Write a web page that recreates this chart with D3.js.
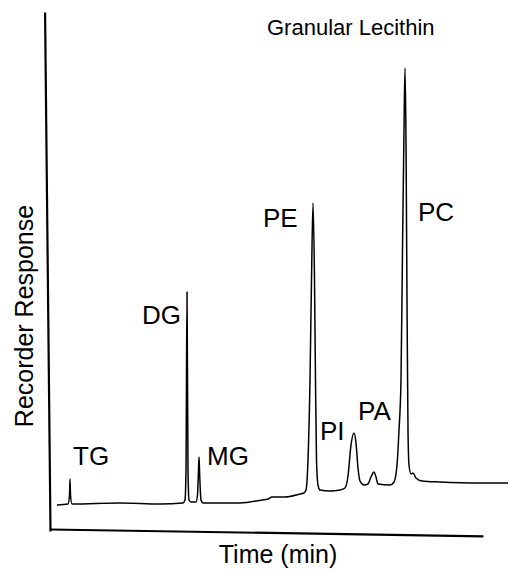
<!DOCTYPE html>
<html>
<head>
<meta charset="utf-8">
<script src="https://cdn.jsdelivr.net/npm/d3@7"></script>
<style>
  body { margin: 0; background: #fff; }
  text { font-family: "Liberation Sans", Arial, Helvetica, sans-serif; fill: #000; }
</style>
</head>
<body>
<div id="chart"></div>
<script>
// chromatogram trace (time in min, response in arbitrary units)
var times = [0.7, 1.8, 1.95, 2.0, 2.05, 2.2, 7.0, 11.0, 13.3, 13.5, 13.6, 13.7, 13.8, 13.9, 14.1,
  14.6, 14.75, 14.85, 14.9, 14.95, 15.1, 15.3, 19.0, 21.2, 21.8, 22.2, 23.5, 25.0, 25.4, 25.6,
  25.8, 26.0, 26.15, 26.3, 26.45, 26.55, 26.65, 26.8, 27.0, 28.0, 29.0, 29.5, 29.8, 30.1, 30.4,
  30.6, 30.8, 31.0, 31.4, 31.8, 32.1, 32.4, 32.6, 32.8, 34.0, 34.4, 34.7, 34.9, 35.1, 35.25,
  35.4, 35.5, 35.6, 35.7, 35.8, 35.9, 36.1, 36.3, 36.6, 37.2, 39.0, 43.0, 45.8];
var response = [5.2, 5.4, 7.2, 10.4, 7.2, 5.4, 5.6, 5.4, 5.6, 6.2, 12.2, 47.8, 12.2, 6.2, 5.8,
  5.8, 7.2, 12.2, 14.8, 12.2, 6.2, 5.6, 5.6, 6.2, 6.4, 6.8, 6.8, 7.4, 7.6, 8.2,
  14.2, 30.2, 50.2, 65.6, 50.2, 30.2, 14.2, 9.2, 8.2, 8.0, 8.2, 8.6, 11.0, 17.2, 19.6,
  17.6, 12.6, 10.0, 9.2, 9.4, 10.8, 11.8, 10.8, 9.4, 9.2, 9.8, 13.2, 20.2, 30.2, 56.2,
  80.2, 92.6, 78.2, 46.2, 20.2, 13.2, 11.4, 11.6, 10.6, 10.0, 9.8, 9.6, 9.6];

// peak labels
var peakNames = ["TG", "DG", "MG", "PE", "PI", "PA", "PC"];
var peakLabelT = [2.3, 9.2, 15.7, 21.3, 27.0, 30.8, 36.8];
var peakLabelR = [13.2, 41.4, 13.2, 60.8, 18.2, 22.2, 62.0];

var title = "Granular Lecithin";
var xTitle = "Time (min)";
var yTitle = "Recorder Response";

var W = 511, H = 572;
var x = d3.scaleLinear().domain([0, 43.3]).range([50, 483]);
var y = d3.scaleLinear().domain([0, 103.8]).range([531, 12]);

var svg = d3.select("#chart").append("svg")
  .attr("width", W)
  .attr("height", H);

// axes: plain lines, no ticks
svg.append("g")
  .attr("transform", "translate(50,0) rotate(-0.6, 0, 531)")
  .call(d3.axisLeft(y).ticks(0).tickSize(0).tickSizeOuter(0))
  .call(function (g) {
    g.select(".domain").attr("stroke", "#000").attr("stroke-width", 2.2);
  });

svg.append("g")
  .attr("transform", "translate(0,529) rotate(0.9, 50, 0)")
  .call(d3.axisBottom(x).ticks(0).tickSize(0).tickSizeOuter(0))
  .call(function (g) {
    g.select(".domain").attr("stroke", "#000").attr("stroke-width", 2.2);
  });

var trace = times.map(function (t, i) { return [t, response[i]]; });

var line = d3.line()
  .x(function (d) { return x(d[0]); })
  .y(function (d) { return y(d[1]); })
  .curve(d3.curveMonotoneX);

svg.append("path")
  .datum(trace)
  .attr("d", line)
  .attr("fill", "none")
  .attr("stroke", "#000")
  .attr("stroke-width", 1.5)
  .attr("stroke-linejoin", "round");

// peak labels
svg.selectAll(".peak")
  .data(peakNames)
  .enter()
  .append("text")
  .attr("class", "peak")
  .attr("x", function (d, i) { return x(peakLabelT[i]); })
  .attr("y", function (d, i) { return y(peakLabelR[i]); })
  .style("font-size", "26px")
  .text(function (d) { return d; });

// title
svg.append("text")
  .attr("x", 267)
  .attr("y", 35)
  .style("font-size", "22px")
  .text(title);

svg.append("text")
  .attr("x", 278)
  .attr("y", 563)
  .attr("text-anchor", "middle")
  .style("font-size", "25px")
  .text(xTitle);

svg.append("text")
  .attr("transform", "translate(33,316) rotate(-90)")
  .attr("text-anchor", "middle")
  .style("font-size", "25px")
  .text(yTitle);
</script>
</body>
</html>
